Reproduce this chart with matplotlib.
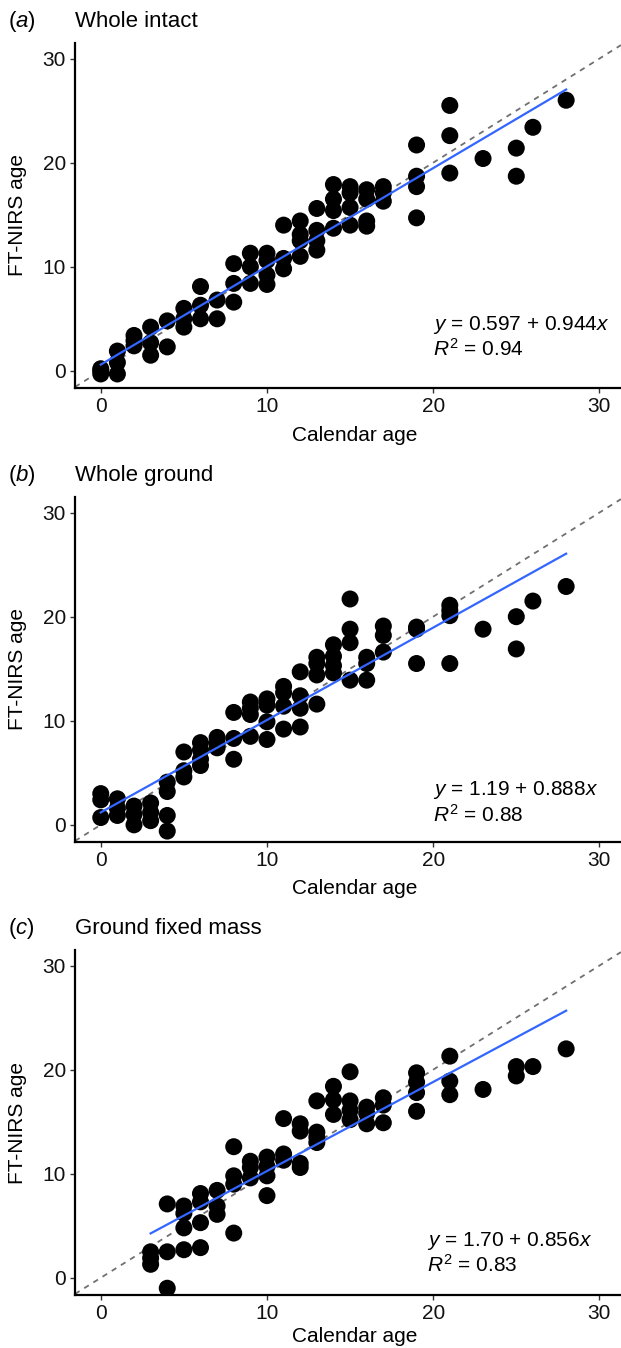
import numpy as np
import matplotlib
matplotlib.use("Agg")
import matplotlib.pyplot as plt

plt.rcParams['font.family'] = ['Liberation Sans', 'DejaVu Sans']
plt.rcParams['mathtext.fontset'] = 'custom'
plt.rcParams['mathtext.rm'] = 'Liberation Sans'
plt.rcParams['mathtext.it'] = 'Liberation Sans:italic'

# panel (a) whole intact
age_a = [0, 0, 0, 1, 1, 1, 2, 2, 2, 3, 3, 3, 4, 4, 5, 5, 5, 6, 6, 6, 7, 7,
         8, 8, 8, 9, 9, 9, 10, 10, 10, 10, 11, 11, 11, 12, 12, 12, 12,
         13, 13, 13, 13, 14, 14, 14, 14, 15, 15, 15, 15, 16, 16, 16, 16,
         17, 17, 17, 19, 19, 19, 19, 21, 21, 21, 23, 25, 25, 26, 28]
nirs_a = [0.2, -0.3, 0.0, 1.9, 0.8, -0.3, 3.4, 2.9, 2.4, 4.2, 2.7, 1.5,
          4.8, 2.3, 6.0, 5.0, 4.2, 8.1, 6.3, 5.0, 6.8, 5.0, 10.3, 8.4, 6.6,
          11.3, 10.0, 8.4, 11.3, 10.6, 9.2, 8.3, 14.0, 10.8, 9.8,
          14.4, 13.1, 12.5, 11.0, 15.6, 13.5, 12.5, 11.6,
          17.9, 16.5, 15.4, 13.7, 17.7, 17.1, 15.7, 14.0,
          17.4, 16.5, 14.4, 13.9, 17.7, 17.1, 16.3,
          21.7, 18.7, 17.7, 14.7, 25.5, 22.6, 19.0, 20.4, 21.4, 18.7, 23.4, 26.0]

# panel (b) whole ground
age_b = [0, 0, 0, 1, 1, 1, 2, 2, 2, 3, 3, 3, 4, 4, 4, 4, 5, 5, 5, 6, 6, 6, 6,
         7, 7, 7, 8, 8, 8, 9, 9, 9, 9, 10, 10, 10, 10, 11, 11, 11, 11,
         12, 12, 12, 12, 13, 13, 13, 13, 14, 14, 14, 14, 15, 15, 15, 15,
         16, 16, 16, 17, 17, 17, 19, 19, 19, 21, 21, 21, 21, 23, 25, 25, 26, 28]
nirs_b = [3.0, 2.4, 0.7, 2.5, 1.6, 0.9, 1.8, 1.0, 0.0, 2.1, 1.2, 0.4,
          4.1, 3.2, 0.9, -0.6, 7.0, 5.2, 4.6, 7.9, 7.2, 6.3, 5.7,
          8.4, 7.8, 7.4, 10.8, 8.3, 6.3, 11.8, 11.2, 10.6, 8.5,
          12.1, 11.5, 9.9, 8.2, 13.3, 12.7, 11.4, 9.2,
          14.7, 12.4, 11.2, 9.4, 16.1, 15.5, 14.4, 11.6, 17.3, 16.2, 15.3, 14.6,
          21.7, 18.8, 17.5, 13.9, 16.1, 15.5, 13.9, 19.1, 18.2, 16.6,
          19.0, 18.8, 15.5, 21.1, 20.6, 20.1, 15.5, 18.8, 20.0, 16.9, 21.5, 22.9]

# panel (c) ground fixed mass
age_c = [3, 3, 3, 4, 4, 4, 5, 5, 5, 5, 6, 6, 6, 6, 7, 7, 7, 8, 8, 8, 8,
         9, 9, 9, 10, 10, 10, 10, 11, 11, 11, 12, 12, 12, 12, 13, 13, 13, 13,
         14, 14, 14, 15, 15, 15, 15, 16, 16, 16, 17, 17, 17,
         19, 19, 19, 19, 21, 21, 21, 23, 25, 25, 26, 28]
nirs_c = [2.5, 1.9, 1.3, 7.1, 2.5, -1.0, 6.9, 6.2, 4.8, 2.7, 8.1, 7.3, 5.3, 2.9,
          8.4, 6.9, 6.1, 12.6, 9.8, 9.0, 4.3, 11.2, 10.6, 9.6,
          11.6, 10.7, 9.8, 7.9, 15.3, 11.9, 11.3, 14.8, 14.1, 11.0, 10.6,
          17.0, 14.0, 13.5, 13.0, 18.4, 17.1, 15.7, 19.8, 17.0, 16.1, 15.2,
          16.4, 15.8, 14.8, 17.3, 16.6, 14.9, 19.7, 18.8, 17.8, 16.0,
          21.3, 18.9, 17.6, 18.1, 20.3, 19.4, 20.3, 22.0]

letters = ['a', 'b', 'c']
titles = ['Whole intact', 'Whole ground', 'Ground fixed mass']
intercepts = [0.597, 1.19, 1.70]
slopes = [0.944, 0.888, 0.856]
eq_text = ['0.597 + 0.944', '1.19 + 0.888', '1.70 + 0.856']
r2_text = ['0.94', '0.88', '0.83']
eq_pos = [(20, 4.4, 2.15), (20, 3.3, 1.0), (19.6, 3.5, 1.2)]
ticks = [0, 10, 20, 30]

ages = [age_a, age_b, age_c]
nirs = [nirs_a, nirs_b, nirs_c]

W, H = 621, 1348
fig = plt.figure(figsize=(W / 100, H / 100), dpi=100)

tops = [43, 497, 950]
xlab_off = [47, 46, 41]
ax_h = 345
left = 75
for i in range(3):
    ax = fig.add_axes([left / W, 1 - (tops[i] + ax_h) / H, (W - left) / W, ax_h / H])
    ax.set_xlim(-1.55, 31.3)
    ax.set_ylim(-1.65, 31.5)

    ax.axline((0, 0), slope=1, color='#707070', lw=1.3, ls=(0, (3, 3)), zorder=1)
    ax.scatter(ages[i], nirs[i], s=150, color='black', edgecolors='none', zorder=2)
    xs = np.array([min(ages[i]), max(ages[i])])
    ax.plot(xs, intercepts[i] + slopes[i] * xs, color='#3366FF', lw=1.6, zorder=3)

    ex, ey1, ey2 = eq_pos[i]
    ax.text(ex, ey1, r'$\mathit{y}$ = ' + eq_text[i] + r'$\mathit{x}$',
            fontsize=15, va='center', ha='left')
    ax.text(ex, ey2, r'$\mathit{R}^{2}$ = ' + r2_text[i],
            fontsize=15, va='center', ha='left')

    for s in ['top', 'right']:
        ax.spines[s].set_visible(False)
    for s in ['left', 'bottom']:
        ax.spines[s].set_linewidth(1.6)
    ax.set_xticks(ticks)
    ax.set_yticks(ticks)
    ax.tick_params(length=3.5, width=1, color='#333333', labelsize=15, pad=3,
                   labelcolor='#111111')

    ax.set_xlabel('Calendar age', fontsize=15, va='center')
    ax.xaxis.set_label_coords((355 - left) / (W - left), -xlab_off[i] / ax_h)
    ax.set_ylabel('FT-NIRS age', fontsize=15, va='center')
    ax.yaxis.set_label_coords(-(left - 18) / (W - left), 0.5)

    ax.text(0, 1 + 21.5 / ax_h, titles[i], transform=ax.transAxes,
            fontsize=16, va='center', ha='left')
    ax.text(-(left - 8) / (W - left), 1 + 21.5 / ax_h, '(' + r'$\mathit{' + letters[i] + '}$' + ')',
            transform=ax.transAxes, fontsize=16, va='center', ha='left')

fig.savefig('out.png', dpi=100)
